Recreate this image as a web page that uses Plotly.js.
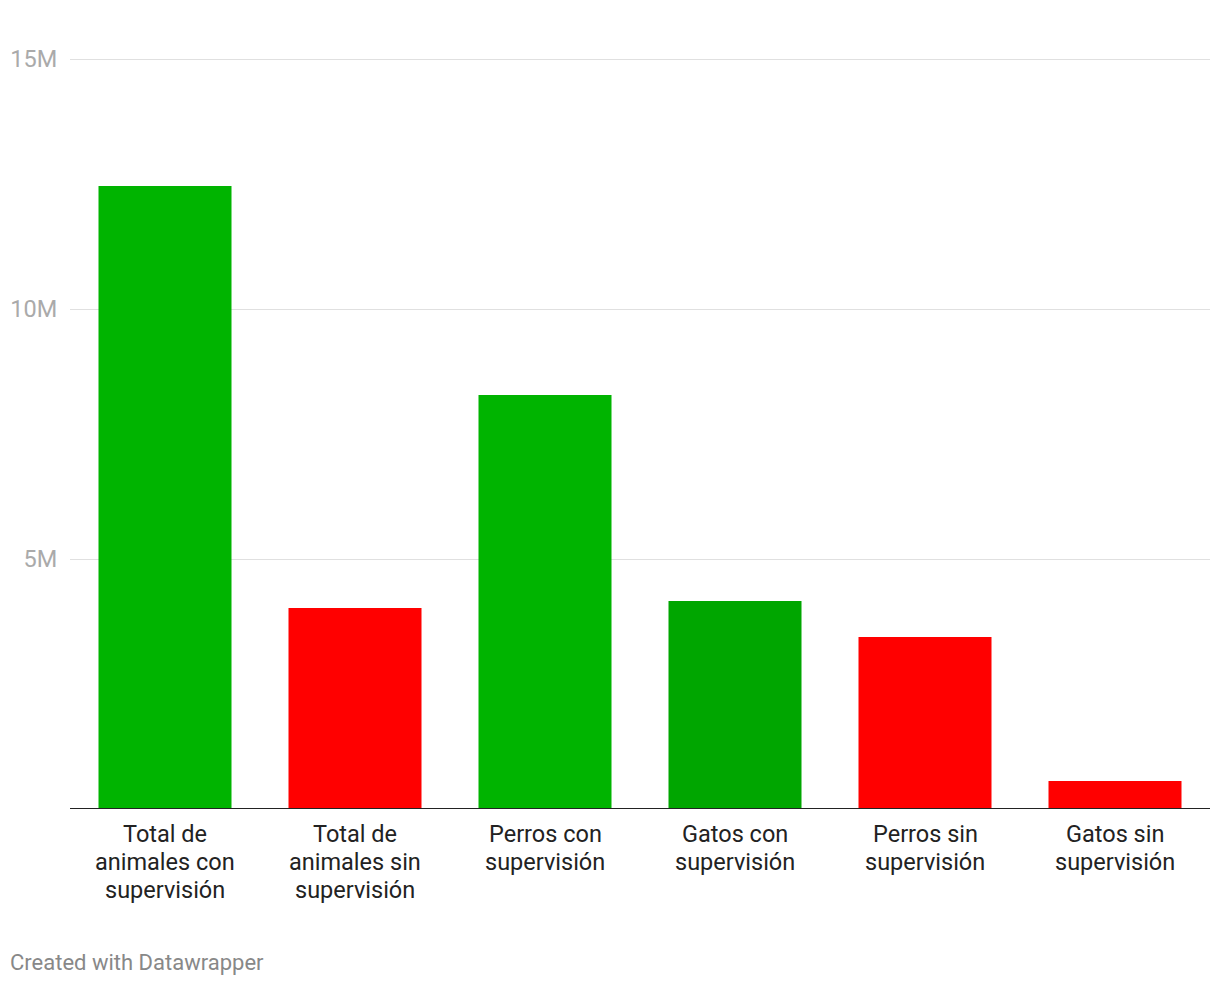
<!DOCTYPE html>
<html><head><meta charset="utf-8">
<script src="https://cdn.plot.ly/plotly-3.0.1.min.js"></script>
<style>html,body{margin:0;padding:0;background:#fff;}#chart{width:1220px;height:986px;}</style>
</head><body><div id="chart"></div>
<script>
const categories = ["Total de<br>animales con<br>supervisión","Total de<br>animales sin<br>supervisión","Perros con<br>supervisión","Gatos con<br>supervisión","Perros sin<br>supervisión","Gatos sin<br>supervisión"];
const values = [12.46, 4.02, 8.28, 4.16, 3.44, 0.56];
const barColors = ["#00b400","#ff0000","#00b400","#00a600","#ff0000","#ff0000"];
const yTickVals = [5, 10, 15];
const yTickText = ["5M", "10M", "15M"];

const yMax = 15.1;
const plotH = 750 * yMax / 15;  // 50px per million
const trace = {
  type: 'bar', x: categories, y: values,
  marker: {color: barColors, line: {width: 0}},
  hoverinfo: 'none'
};
// category labels as one annotation per line (28px line spacing)
const annotations = [];
categories.forEach(function (c) {
  c.split('<br>').forEach(function (line, i) {
    annotations.push({
      text: line, xref: 'x', yref: 'paper', x: c, y: -(25 + 28 * i) / plotH,
      xanchor: 'center', yanchor: 'middle', showarrow: false,
      font: {family: 'Roboto, sans-serif', size: 23.5, color: '#222'}
    });
  });
});
annotations.push({
  text: 'Created with Datawrapper', xref: 'paper', yref: 'paper',
  x: -62/1140, y: -154/plotH, xanchor: 'left', yanchor: 'middle', showarrow: false,
  font: {family: 'Roboto, sans-serif', size: 22, color: '#888'}
});
const layout = {
  width: 1220, height: 986,
  margin: {l: 70, r: 10, t: 809 - plotH, b: 177},
  paper_bgcolor: '#fff', plot_bgcolor: '#fff',
  bargap: 0.3,
  showlegend: false,
  font: {family: 'Roboto, sans-serif', size: 20, color: '#222'},
  xaxis: {
    showgrid: false, zeroline: false, showline: false,
    showticklabels: false, fixedrange: true
  },
  yaxis: {
    range: [0, yMax], tickvals: yTickVals, ticktext: yTickText,
    showgrid: true, gridcolor: '#e0e0e0', gridwidth: 1,
    zeroline: false, showline: false,
    ticks: 'outside', ticklen: 7, tickcolor: 'rgba(0,0,0,0)',
    tickfont: {family: 'Roboto, sans-serif', size: 23.5, color: '#aaaaaa'},
    fixedrange: true
  },
  shapes: [{type: 'line', xref: 'paper', yref: 'y', x0: 0, x1: 1, y0: 0, y1: 0,
    line: {color: '#222', width: 2}}],
  annotations: annotations
};
Plotly.newPlot('chart', [trace], layout, {displayModeBar: false, staticPlot: true});
</script></body></html>
